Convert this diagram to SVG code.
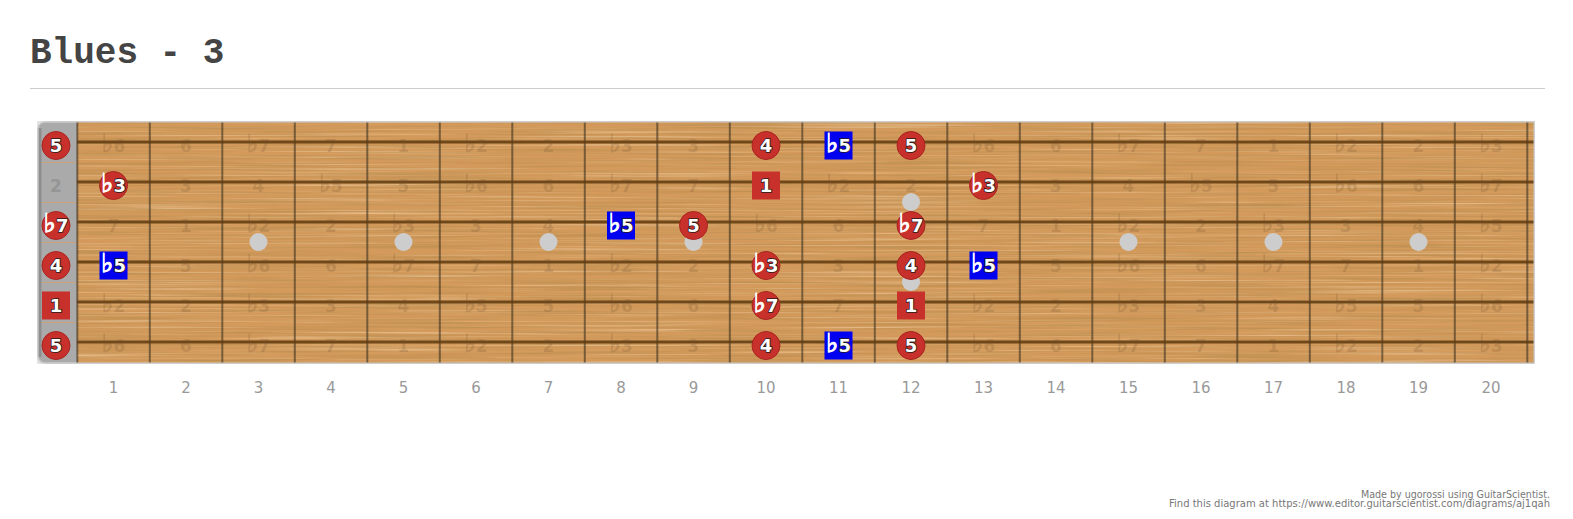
<svg xmlns="http://www.w3.org/2000/svg" width="1573" height="519" viewBox="0 0 1573 519">
<style>
.title{font-family:"Liberation Mono","Courier New",monospace;font-weight:bold;font-size:36px;fill:#444}
.fn{font-family:"DejaVu Sans",Verdana,sans-serif;font-size:15px;fill:#999;text-anchor:middle}
.f{font-family:"DejaVu Sans",Verdana,sans-serif;font-weight:bold;font-size:17px;fill:#6e4e2e;opacity:0.2;text-anchor:middle}
.f .fl{stroke:#6e4e2e;stroke-width:0.9}
.fnut{font-family:"DejaVu Sans",Verdana,sans-serif;font-weight:bold;font-size:17px;fill:#959595;text-anchor:middle}
.t{font-family:"DejaVu Sans",Verdana,sans-serif;font-weight:bold;font-size:18px;fill:#fff;stroke:#2a1a1a;stroke-width:1.6;paint-order:stroke;text-anchor:middle}
.t .fl{stroke:#fff;stroke-width:1;paint-order:normal}
.fl{font-family:"DejaVu Sans",sans-serif;font-size:1.45em}
.c{fill:#c8302b;stroke:#a82420;stroke-width:1}
.sq{fill:#c8302b}
.bl{fill:#0000f0}
.dot{fill:#cdcdcd}
.credit{font-family:"DejaVu Sans",Verdana,sans-serif;font-size:10px;fill:#777}
</style>
<defs>
<filter id="grain" x="0" y="0" width="1" height="1">
<feTurbulence type="fractalNoise" baseFrequency="0.006 0.45" numOctaves="4" seed="7" result="n"/>
<feColorMatrix in="n" type="matrix" values="0 0 0 0 0.5  0 0 0 0 0.27  0 0 0 0 0.08  1.9 0 0 0 -0.8"/>
</filter>
<filter id="grain2" x="0" y="0" width="1" height="1">
<feTurbulence type="fractalNoise" baseFrequency="0.004 0.6" numOctaves="3" seed="21" result="n"/>
<feColorMatrix in="n" type="matrix" values="0 0 0 0 0.93  0 0 0 0 0.74  0 0 0 0 0.5  0 1.4 0 0 -0.72"/>
</filter>
</defs>

<rect width="1573" height="519" fill="#fff"/>
<text class="title" x="30" y="63">Blues - 3</text>
<line x1="30" y1="88.5" x2="1545" y2="88.5" stroke="#cccccc" stroke-width="1"/>

<g id="board">
<path d="M46 122 H1534 V363 H46 Q38 363 38 355 V130 Q38 122 46 122 Z" fill="#aaaaaa" stroke="#c4c4c4" stroke-width="1.5"/>
<path d="M40 128 V357" stroke="#8e8e8e" stroke-width="3"/>
<rect x="77" y="122" width="1457" height="241" fill="#d39a5b"/>
<rect x="77" y="122" width="1457" height="241" filter="url(#grain2)"/>
<rect x="77" y="122" width="1457" height="241" filter="url(#grain)"/>
<path d="M42 162.5 H77 M42 202.5 H77 M42 242.5 H77 M42 282.5 H77 M42 322.5 H77" stroke="#c9a27c" stroke-width="1"/>
<path d="M77.3 122V363M149.8 122V363M222.3 122V363M294.8 122V363M367.3 122V363M439.8 122V363M512.3 122V363M584.8 122V363M657.3 122V363M729.8 122V363M802.3 122V363M874.8 122V363M947.3 122V363M1019.8 122V363M1092.3 122V363M1164.8 122V363M1237.3 122V363M1309.8 122V363M1382.3 122V363M1454.8 122V363M1527.3 122V363" stroke="#3c3020" stroke-opacity="0.6" stroke-width="2"/>
<path d="M77 142H1534M77 182H1534M77 222H1534M77 262H1534M77 302H1534M77 342H1534" stroke="#5e3a0e" stroke-opacity="0.85" stroke-width="3"/>
<rect x="38" y="122" width="1496" height="241" fill="none" stroke="#c8c8c8" stroke-width="1"/>
</g>

<g id="fret-numbers">
<text class="fn" x="113.5" y="393">1</text>
<text class="fn" x="186" y="393">2</text>
<text class="fn" x="258.5" y="393">3</text>
<text class="fn" x="331" y="393">4</text>
<text class="fn" x="403.5" y="393">5</text>
<text class="fn" x="476" y="393">6</text>
<text class="fn" x="548.5" y="393">7</text>
<text class="fn" x="621" y="393">8</text>
<text class="fn" x="693.5" y="393">9</text>
<text class="fn" x="766" y="393">10</text>
<text class="fn" x="838.5" y="393">11</text>
<text class="fn" x="911" y="393">12</text>
<text class="fn" x="983.5" y="393">13</text>
<text class="fn" x="1056" y="393">14</text>
<text class="fn" x="1128.5" y="393">15</text>
<text class="fn" x="1201" y="393">16</text>
<text class="fn" x="1273.5" y="393">17</text>
<text class="fn" x="1346" y="393">18</text>
<text class="fn" x="1418.5" y="393">19</text>
<text class="fn" x="1491" y="393">20</text>
</g>

<g id="faint-notes">
<text class="f" x="113.5" y="152"><tspan class="fl">♭</tspan>6</text><text class="f" x="186" y="152">6</text><text class="f" x="258.5" y="152"><tspan class="fl">♭</tspan>7</text><text class="f" x="331" y="152">7</text><text class="f" x="403.5" y="152">1</text><text class="f" x="476" y="152"><tspan class="fl">♭</tspan>2</text><text class="f" x="548.5" y="152">2</text><text class="f" x="621" y="152"><tspan class="fl">♭</tspan>3</text><text class="f" x="693.5" y="152">3</text><text class="f" x="983.5" y="152"><tspan class="fl">♭</tspan>6</text><text class="f" x="1056" y="152">6</text><text class="f" x="1128.5" y="152"><tspan class="fl">♭</tspan>7</text><text class="f" x="1201" y="152">7</text><text class="f" x="1273.5" y="152">1</text><text class="f" x="1346" y="152"><tspan class="fl">♭</tspan>2</text><text class="f" x="1418.5" y="152">2</text><text class="f" x="1491" y="152"><tspan class="fl">♭</tspan>3</text>

<text class="fnut" x="56" y="192">2</text>
<text class="f" x="186" y="192">3</text><text class="f" x="258.5" y="192">4</text><text class="f" x="331" y="192"><tspan class="fl">♭</tspan>5</text><text class="f" x="403.5" y="192">5</text><text class="f" x="476" y="192"><tspan class="fl">♭</tspan>6</text><text class="f" x="548.5" y="192">6</text><text class="f" x="621" y="192"><tspan class="fl">♭</tspan>7</text><text class="f" x="693.5" y="192">7</text><text class="f" x="838.5" y="192"><tspan class="fl">♭</tspan>2</text><text class="f" x="911" y="192">2</text><text class="f" x="1056" y="192">3</text><text class="f" x="1128.5" y="192">4</text><text class="f" x="1201" y="192"><tspan class="fl">♭</tspan>5</text><text class="f" x="1273.5" y="192">5</text><text class="f" x="1346" y="192"><tspan class="fl">♭</tspan>6</text><text class="f" x="1418.5" y="192">6</text><text class="f" x="1491" y="192"><tspan class="fl">♭</tspan>7</text>

<text class="f" x="113.5" y="232">7</text><text class="f" x="186" y="232">1</text><text class="f" x="258.5" y="232"><tspan class="fl">♭</tspan>2</text><text class="f" x="331" y="232">2</text><text class="f" x="403.5" y="232"><tspan class="fl">♭</tspan>3</text><text class="f" x="476" y="232">3</text><text class="f" x="548.5" y="232">4</text><text class="f" x="766" y="232"><tspan class="fl">♭</tspan>6</text><text class="f" x="838.5" y="232">6</text><text class="f" x="983.5" y="232">7</text><text class="f" x="1056" y="232">1</text><text class="f" x="1128.5" y="232"><tspan class="fl">♭</tspan>2</text><text class="f" x="1201" y="232">2</text><text class="f" x="1273.5" y="232"><tspan class="fl">♭</tspan>3</text><text class="f" x="1346" y="232">3</text><text class="f" x="1418.5" y="232">4</text><text class="f" x="1491" y="232"><tspan class="fl">♭</tspan>5</text>

<text class="f" x="186" y="272">5</text><text class="f" x="258.5" y="272"><tspan class="fl">♭</tspan>6</text><text class="f" x="331" y="272">6</text><text class="f" x="403.5" y="272"><tspan class="fl">♭</tspan>7</text><text class="f" x="476" y="272">7</text><text class="f" x="548.5" y="272">1</text><text class="f" x="621" y="272"><tspan class="fl">♭</tspan>2</text><text class="f" x="693.5" y="272">2</text><text class="f" x="838.5" y="272">3</text><text class="f" x="1056" y="272">5</text><text class="f" x="1128.5" y="272"><tspan class="fl">♭</tspan>6</text><text class="f" x="1201" y="272">6</text><text class="f" x="1273.5" y="272"><tspan class="fl">♭</tspan>7</text><text class="f" x="1346" y="272">7</text><text class="f" x="1418.5" y="272">1</text><text class="f" x="1491" y="272"><tspan class="fl">♭</tspan>2</text>

<text class="f" x="113.5" y="312"><tspan class="fl">♭</tspan>2</text><text class="f" x="186" y="312">2</text><text class="f" x="258.5" y="312"><tspan class="fl">♭</tspan>3</text><text class="f" x="331" y="312">3</text><text class="f" x="403.5" y="312">4</text><text class="f" x="476" y="312"><tspan class="fl">♭</tspan>5</text><text class="f" x="548.5" y="312">5</text><text class="f" x="621" y="312"><tspan class="fl">♭</tspan>6</text><text class="f" x="693.5" y="312">6</text><text class="f" x="838.5" y="312">7</text><text class="f" x="983.5" y="312"><tspan class="fl">♭</tspan>2</text><text class="f" x="1056" y="312">2</text><text class="f" x="1128.5" y="312"><tspan class="fl">♭</tspan>3</text><text class="f" x="1201" y="312">3</text><text class="f" x="1273.5" y="312">4</text><text class="f" x="1346" y="312"><tspan class="fl">♭</tspan>5</text><text class="f" x="1418.5" y="312">5</text><text class="f" x="1491" y="312"><tspan class="fl">♭</tspan>6</text>

<text class="f" x="113.5" y="352"><tspan class="fl">♭</tspan>6</text><text class="f" x="186" y="352">6</text><text class="f" x="258.5" y="352"><tspan class="fl">♭</tspan>7</text><text class="f" x="331" y="352">7</text><text class="f" x="403.5" y="352">1</text><text class="f" x="476" y="352"><tspan class="fl">♭</tspan>2</text><text class="f" x="548.5" y="352">2</text><text class="f" x="621" y="352"><tspan class="fl">♭</tspan>3</text><text class="f" x="693.5" y="352">3</text><text class="f" x="983.5" y="352"><tspan class="fl">♭</tspan>6</text><text class="f" x="1056" y="352">6</text><text class="f" x="1128.5" y="352"><tspan class="fl">♭</tspan>7</text><text class="f" x="1201" y="352">7</text><text class="f" x="1273.5" y="352">1</text><text class="f" x="1346" y="352"><tspan class="fl">♭</tspan>2</text><text class="f" x="1418.5" y="352">2</text><text class="f" x="1491" y="352"><tspan class="fl">♭</tspan>3</text>
</g>

<g id="inlays">
<circle class="dot" cx="258.5" cy="242" r="9"/>
<circle class="dot" cx="403.5" cy="242" r="9"/>
<circle class="dot" cx="548.5" cy="242" r="9"/>
<circle class="dot" cx="693.5" cy="242" r="9"/>
<circle class="dot" cx="911" cy="202" r="9"/>
<circle class="dot" cx="911" cy="282" r="9"/>
<circle class="dot" cx="1128.5" cy="242" r="9"/>
<circle class="dot" cx="1273.5" cy="242" r="9"/>
<circle class="dot" cx="1418.5" cy="242" r="9"/>
</g>

<g id="connectors"></g>

<g id="notes">
<g id="s1-f0" transform="translate(56,145.5)"><circle class="c" r="14"/><text class="t" y="6.5">5</text></g>
<g id="s1-f10" transform="translate(766,145.5)"><circle class="c" r="14"/><text class="t" y="6.5">4</text></g>
<g id="s1-f11" transform="translate(838.5,145.5)"><rect class="bl" x="-14" y="-14" width="28" height="28"/><text class="t" y="6.5"><tspan class="fl">♭</tspan>5</text></g>
<g id="s1-f12" transform="translate(911,145.5)"><circle class="c" r="14"/><text class="t" y="6.5">5</text></g>

<g id="s2-f1" transform="translate(113.5,185.5)"><circle class="c" r="14"/><text class="t" y="6.5"><tspan class="fl">♭</tspan>3</text></g>
<g id="s2-f10" transform="translate(766,185.5)"><rect class="sq" x="-14" y="-14" width="28" height="28"/><text class="t" y="6.5">1</text></g>
<g id="s2-f13" transform="translate(983.5,185.5)"><circle class="c" r="14"/><text class="t" y="6.5"><tspan class="fl">♭</tspan>3</text></g>

<g id="s3-f0" transform="translate(56,225.5)"><circle class="c" r="14"/><text class="t" y="6.5"><tspan class="fl">♭</tspan>7</text></g>
<g id="s3-f8" transform="translate(621,225.5)"><rect class="bl" x="-14" y="-14" width="28" height="28"/><text class="t" y="6.5"><tspan class="fl">♭</tspan>5</text></g>
<g id="s3-f9" transform="translate(693.5,225.5)"><circle class="c" r="14"/><text class="t" y="6.5">5</text></g>
<g id="s3-f12" transform="translate(911,225.5)"><circle class="c" r="14"/><text class="t" y="6.5"><tspan class="fl">♭</tspan>7</text></g>

<g id="s4-f0" transform="translate(56,265.5)"><circle class="c" r="14"/><text class="t" y="6.5">4</text></g>
<g id="s4-f1" transform="translate(113.5,265.5)"><rect class="bl" x="-14" y="-14" width="28" height="28"/><text class="t" y="6.5"><tspan class="fl">♭</tspan>5</text></g>
<g id="s4-f10" transform="translate(766,265.5)"><circle class="c" r="14"/><text class="t" y="6.5"><tspan class="fl">♭</tspan>3</text></g>
<g id="s4-f12" transform="translate(911,265.5)"><circle class="c" r="14"/><text class="t" y="6.5">4</text></g>
<g id="s4-f13" transform="translate(983.5,265.5)"><rect class="bl" x="-14" y="-14" width="28" height="28"/><text class="t" y="6.5"><tspan class="fl">♭</tspan>5</text></g>

<g id="s5-f0" transform="translate(56,305.5)"><rect class="sq" x="-14" y="-14" width="28" height="28"/><text class="t" y="6.5">1</text></g>
<g id="s5-f10" transform="translate(766,305.5)"><circle class="c" r="14"/><text class="t" y="6.5"><tspan class="fl">♭</tspan>7</text></g>
<g id="s5-f12" transform="translate(911,305.5)"><rect class="sq" x="-14" y="-14" width="28" height="28"/><text class="t" y="6.5">1</text></g>

<g id="s6-f0" transform="translate(56,345.5)"><circle class="c" r="14"/><text class="t" y="6.5">5</text></g>
<g id="s6-f10" transform="translate(766,345.5)"><circle class="c" r="14"/><text class="t" y="6.5">4</text></g>
<g id="s6-f11" transform="translate(838.5,345.5)"><rect class="bl" x="-14" y="-14" width="28" height="28"/><text class="t" y="6.5"><tspan class="fl">♭</tspan>5</text></g>
<g id="s6-f12" transform="translate(911,345.5)"><circle class="c" r="14"/><text class="t" y="6.5">5</text></g>
</g>

<g id="credits">
<text class="credit" x="1361" y="498" textLength="189" lengthAdjust="spacingAndGlyphs">Made by ugorossi using GuitarScientist.</text>
<text class="credit" x="1169" y="507" textLength="381" lengthAdjust="spacingAndGlyphs">Find this diagram at https://www.editor.guitarscientist.com/diagrams/aj1qah</text>
</g>
</svg>
